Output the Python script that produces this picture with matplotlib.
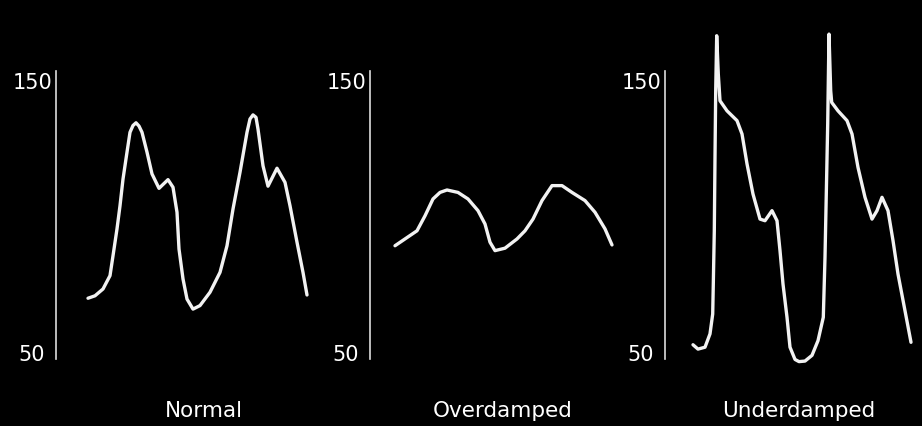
import matplotlib
matplotlib.use("Agg")
import matplotlib.pyplot as plt

# pressure traces, time in s from the axis line, pressure in mmHg
titles = ["Normal", "Overdamped", "Underdamped"]
y_ticks = [150, 50]

normal_t = [0.32, 0.39, 0.47, 0.54, 0.57, 0.61, 0.64, 0.67, 0.71, 0.74, 0.77, 0.80,
            0.83, 0.86, 0.91, 0.96, 1.03, 1.12, 1.17, 1.21, 1.23, 1.27, 1.31, 1.37,
            1.44, 1.54, 1.64, 1.71, 1.77, 1.84, 1.91, 1.94, 1.97, 2.00, 2.02, 2.07,
            2.12, 2.21, 2.29, 2.34, 2.41, 2.47, 2.51]
normal_p = [70.5, 71.4, 73.9, 78.8, 86.1, 96.0, 104.5, 114.3, 124.2, 131.5, 134.0, 135.0,
            133.8, 131.5, 124.2, 116.2, 110.9, 114.1, 111.3, 102.1, 88.6, 77.6, 70.2, 66.5,
            67.8, 72.7, 80.0, 89.8, 103.3, 116.8, 131.5, 136.4, 137.9, 137.0, 132.7, 119.2,
            111.7, 118.3, 113.1, 104.5, 91.1, 80.0, 71.7]

over_t = [0.25, 0.35, 0.47, 0.55, 0.63, 0.70, 0.77, 0.88, 0.98, 1.08, 1.15, 1.20,
          1.25, 1.35, 1.47, 1.55, 1.63, 1.72, 1.82, 1.92, 2.02, 2.15, 2.25, 2.35,
          2.42]
over_p = [89.8, 92.3, 95.3, 100.8, 107.0, 109.4, 110.3, 109.4, 107.0, 102.7, 97.8,
          91.1, 88.0, 88.9, 92.3, 95.3, 99.6, 106.4, 111.9, 111.9, 109.4, 106.4,
          102.1, 96.0, 90.1]

under_t = [0.28, 0.33, 0.40, 0.45, 0.477, 0.483, 0.493, 0.500, 0.507, 0.517, 0.533,
           0.55, 0.62, 0.72, 0.77, 0.82, 0.88, 0.95, 1.00, 1.07, 1.12, 1.15, 1.18,
           1.22, 1.25, 1.30, 1.34, 1.40, 1.47, 1.53, 1.583, 1.600, 1.617, 1.627,
           1.640, 1.657, 1.667, 1.73, 1.82, 1.87, 1.93, 2.00, 2.07, 2.12, 2.17,
           2.23, 2.28, 2.33, 2.40, 2.46]
under_p = [53.4, 51.8, 52.5, 57.4, 64.7, 75.7, 95.3, 122.3, 146.8, 167.0, 152.9,
           143.1, 139.4, 135.8, 130.9, 119.9, 108.8, 99.6, 99.0, 102.7, 99.0, 88.0, 75.7,
           63.5, 52.5, 48.0, 47.2, 47.4, 49.5, 54.9, 63.5, 85.6, 116.2, 134.6,
           167.6, 146.8, 142.5, 139.4, 135.8, 130.9, 118.6, 107.6, 99.6, 102.7, 107.6,
           102.7, 91.7, 79.4, 65.9, 54.3]

traces = [(normal_t, normal_p), (over_t, over_p), (under_t, under_p)]

W, H = 922, 427
fig = plt.figure(figsize=(W / 100, H / 100), dpi=100, facecolor="black")

axis_x = [56, 370, 665]       # pixel column of each vertical axis line
title_x = [204, 503, 799]
line_col = "#f2f2f2"

for i, (t, p) in enumerate(traces):
    ax = fig.add_axes([axis_x[i] / W, 0, 255 / W, 1])
    ax.set_facecolor("black")
    ax.plot(t, p, color=line_col, lw=2.4, solid_joinstyle="round",
            solid_capstyle="round", clip_on=False)
    ax.set_xlim(0, 2.55)
    ax.set_ylim(23.53, 180.51)
    for s in ["top", "right", "bottom"]:
        ax.spines[s].set_visible(False)
    ax.spines["left"].set_color("#dcdcdc")
    ax.spines["left"].set_linewidth(1.2)
    ax.spines["left"].set_bounds(48.2, 154.0)
    ax.set_xticks([])
    ax.set_yticks([])
    for v, gap in zip(y_ticks, [4, 11]):
        ax.annotate(str(v), xy=(0, v), xycoords=("axes fraction", "data"),
                    xytext=(-gap, 0), textcoords="offset pixels",
                    ha="right", va="center", color="white", fontsize=15)
    fig.text(title_x[i] / W, 1 - 417.3 / H, titles[i], ha="center",
             va="baseline", color="white", fontsize=15.5)

fig.savefig("out.png", dpi=100, facecolor="black")
